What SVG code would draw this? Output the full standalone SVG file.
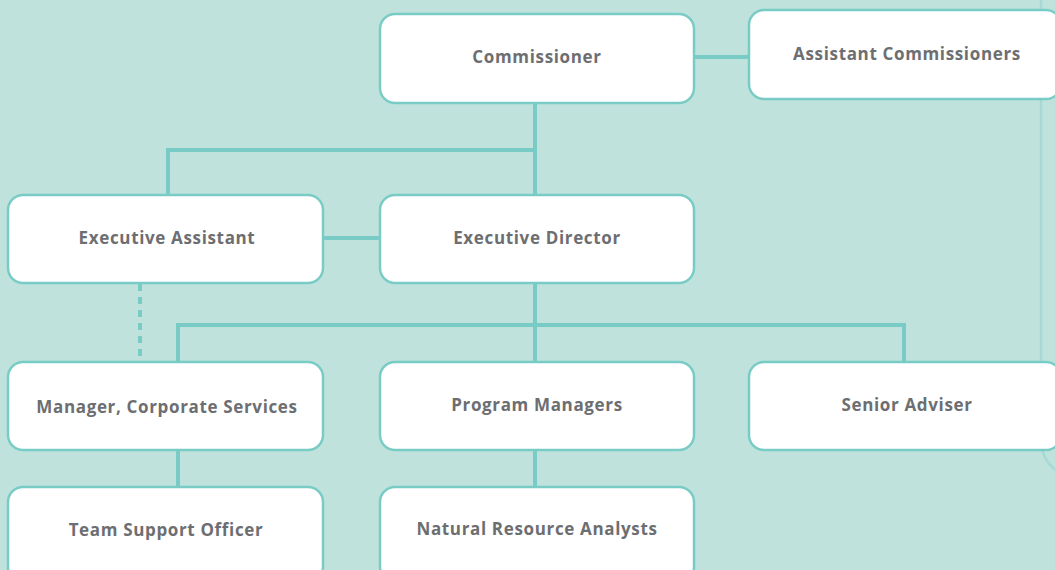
<svg xmlns="http://www.w3.org/2000/svg" width="1055" height="570" viewBox="0 0 1055 570">
<style>
.bg{fill:#bfe3dc}
.box{fill:#ffffff;stroke:#79ccc6;stroke-width:2.5}
.lbl{font-family:"Open Sans",Lato,sans-serif;font-weight:700;font-size:17px;letter-spacing:0.65px;fill:#6d6e71;text-anchor:middle;dominant-baseline:central}
.con{fill:none;stroke:#79ccc6;stroke-width:4}
.dash{fill:none;stroke:#79ccc6;stroke-width:4;stroke-dasharray:7 6}
.faint{fill:none;stroke:#a6d9d5;stroke-width:2.5}
</style>
<rect class="bg" x="0" y="0" width="1055" height="570"/>
<path class="faint" d="M1041,0 V440 Q1041,460 1058,472"/>
<g id="connectors">
<path class="con" d="M694,57 H749"/>
<path class="con" d="M535,103 V195"/>
<path class="con" d="M535,150 H168 V195"/>
<path class="con" d="M323,238 H380"/>
<path class="dash" d="M140,284 V362"/>
<path class="con" d="M535,283 V362"/>
<path class="con" d="M178,362 V325 H904 V362"/>
<path class="con" d="M178,450 V487"/>
<path class="con" d="M535,450 V487"/>
</g>
<g id="commissioner"><rect class="box" x="380" y="14" width="314" height="89" rx="15"/><text class="lbl" x="537" y="56">Commissioner</text></g>
<g id="assistant-commissioners"><rect class="box" x="749" y="10" width="312" height="89" rx="15"/><text class="lbl" x="907" y="53">Assistant Commissioners</text></g>
<g id="executive-assistant"><rect class="box" x="8" y="195" width="315" height="88" rx="15"/><text class="lbl" x="167" y="237">Executive Assistant</text></g>
<g id="executive-director"><rect class="box" x="380" y="195" width="314" height="88" rx="15"/><text class="lbl" x="537" y="237">Executive Director</text></g>
<g id="manager-corporate-services"><rect class="box" x="8" y="362" width="315" height="88" rx="15"/><text class="lbl" x="167" y="406">Manager, Corporate Services</text></g>
<g id="program-managers"><rect class="box" x="380" y="362" width="314" height="88" rx="15"/><text class="lbl" x="537" y="404">Program Managers</text></g>
<g id="senior-adviser"><rect class="box" x="749" y="362" width="312" height="88" rx="15"/><text class="lbl" x="907" y="404">Senior Adviser</text></g>
<g id="team-support-officer"><rect class="box" x="8" y="487" width="315" height="95" rx="15"/><text class="lbl" x="166" y="529">Team Support Officer</text></g>
<g id="natural-resource-analysts"><rect class="box" x="380" y="487" width="314" height="95" rx="15"/><text class="lbl" x="537" y="528">Natural Resource Analysts</text></g>
</svg>
